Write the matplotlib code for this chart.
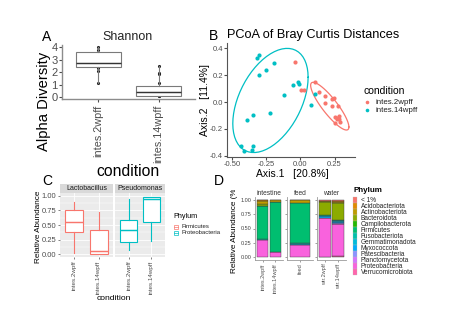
import numpy as np
import matplotlib
matplotlib.use("Agg")
import matplotlib.pyplot as plt
from matplotlib.patches import Rectangle
from matplotlib.transforms import Bbox, TransformedBbox

plt.rcParams['font.family'] = ['Liberation Sans', 'DejaVu Sans']

# ---------------- data ----------------
conditions = ['intes.2wpff', 'intes.14wpff']
cond_colors = ['#F8766D', '#00BFC4']

# A: Shannon alpha diversity (box statistics and sample points)
alpha_box_q1 = [2.37, 0.08]
alpha_box_med = [2.75, 0.37]
alpha_box_q3 = [3.62, 0.91]
alpha_box_lo = [1.15, 0.05]
alpha_box_hi = [4.02, 2.50]
alpha_pts_2wpff = [4.02, 3.75, 3.55, 3.3, 3.0, 2.75, 2.6, 2.45, 2.3, 2.05, 1.15]
alpha_pts_14wpff = [2.5, 1.9, 1.82, 1.1, 0.8, 0.6, 0.37, 0.25, 0.15, 0.08, 0.05]

# B: PCoA coordinates
pcoa_2wpff_x = [-0.037, 0.105, 0.008, 0.025, 0.138, 0.183, 0.228, 0.243, 0.178,
                0.232, 0.278, 0.255, 0.270, 0.285, 0.280, 0.265, 0.250, 0.293]
pcoa_2wpff_y = [0.296, 0.148, 0.086, 0.086, 0.075, 0.048, 0.020, 0.028, -0.008,
                -0.030, -0.030, -0.110, -0.118, -0.108, -0.130, -0.125, -0.155, -0.148]
pcoa_14wpff_x = [-0.305, -0.315, -0.195, -0.250, -0.305, -0.020, -0.010, -0.055, -0.120,
                 0.110, 0.080, -0.220, -0.345, -0.390, -0.435, -0.415, -0.350, -0.352]
pcoa_14wpff_y = [0.350, 0.330, 0.290, 0.235, 0.200, 0.150, 0.135, 0.125, 0.054,
                 0.063, -0.022, -0.085, -0.096, -0.136, -0.330, -0.365, -0.325, -0.355]
ellipse_level = 0.75

# C: relative abundance of two genera (box statistics)
genera = ['Lactobacillus', 'Pseudomonas']
genus_colors = ['#F8766D', '#00BFC4']
genus_phylum = ['Firmicutes', 'Proteobacteria']
genus_q1 = [[0.38, 0.0], [0.21, 0.555]]
genus_med = [[0.543, 0.046], [0.42, 0.942]]
genus_q3 = [[0.757, 0.41], [0.578, 0.988]]
genus_lo = [[0.017, 0.0], [0.075, 0.23]]
genus_hi = [[0.896, 0.73], [0.954, 0.988]]

# D: phylum composition per sample
phyla = ['< 1%', 'Acidobacteriota', 'Actinobacteriota', 'Bacteroidota', 'Campilobacterota',
         'Firmicutes', 'Fusobacteriota', 'Gemmatimonadota', 'Myxococcota', 'Patescibacteria',
         'Planctomycetota', 'Proteobacteria', 'Verrucomicrobiota']
phylum_colors = ['#F8766D', '#E18A00', '#BE9C00', '#8CAB00', '#24B700', '#00BE70', '#00C1AB',
                 '#00BBDA', '#00ACFC', '#8B93FF', '#D575FE', '#F962DD', '#FF65AC']
abund_intes_2wpff = [0.01, 0.01, 0.06, 0.02, 0.01, 0.57, 0.02, 0.0, 0.0, 0.0, 0.0, 0.30, 0.0]
abund_intes_14wpff = [0.01, 0.0, 0.02, 0.01, 0.0, 0.865, 0.005, 0.0, 0.0, 0.0, 0.0, 0.09, 0.0]
abund_feed = [0.0, 0.01, 0.04, 0.0, 0.0, 0.695, 0.025, 0.01, 0.0, 0.0, 0.0, 0.22, 0.0]
abund_wtr_2wpff = [0.015, 0.005, 0.02, 0.23, 0.0, 0.01, 0.0, 0.01, 0.02, 0.0, 0.01, 0.67, 0.01]
abund_wtr_14wpff = [0.025, 0.005, 0.03, 0.29, 0.005, 0.005, 0.01, 0.02, 0.02, 0.01, 0.01, 0.55, 0.02]
facets = ['intestine', 'feed', 'water']
facet_samples = [['intes.2wpff', 'intes.14wpff'], ['feed'], ['wtr.2wpff', 'wtr.14wpff']]
facet_abund = [[abund_intes_2wpff, abund_intes_14wpff], [abund_feed],
               [abund_wtr_2wpff, abund_wtr_14wpff]]

# ---------------- figure helpers ----------------
W, H = 469, 329
fig = plt.figure(figsize=(W / 100, H / 100), dpi=100)


def add_ax(x0, y0, x1, y1):
    return fig.add_axes([x0 / W, 1 - y1 / H, (x1 - x0) / W, (y1 - y0) / H])


def ftext(x, y, s, **kw):
    return fig.text(x / W, 1 - y / H, s, **kw)


GREY = '#4D4D4D'


def box(ax, pos, q1, med, q3, lo, hi, color, width, lw, medcolor=None, z=3):
    ax.bxp([dict(med=med, q1=q1, q3=q3, whislo=lo, whishi=hi, fliers=[])],
           positions=[pos], widths=width, showcaps=False, patch_artist=True,
           boxprops=dict(facecolor='white', edgecolor=color, linewidth=lw),
           medianprops=dict(color=medcolor or color, linewidth=lw * 1.3),
           whiskerprops=dict(color=color, linewidth=lw), zorder=z)


# ---------------- A ----------------
axA = add_ax(62, 45, 195, 99)
axA.set_xlim(0.4, 2.6)
axA.set_ylim(-0.16, 4.16)
for s in ['top', 'right']:
    axA.spines[s].set_visible(False)
for s in ['left', 'bottom']:
    axA.spines[s].set_color('#8C8C8C')
    axA.spines[s].set_linewidth(1.0)
for i, pts in enumerate([alpha_pts_2wpff, alpha_pts_14wpff]):
    axA.scatter([i + 1] * len(pts), pts, s=5, color='#222222', zorder=2, linewidths=0)
    box(axA, i + 1, alpha_box_q1[i], alpha_box_med[i], alpha_box_q3[i],
        alpha_box_lo[i], alpha_box_hi[i], '#7A7A7A', 0.75, 0.8, medcolor='#333333')
axA.set_yticks([0, 1, 2, 3, 4])
axA.set_xticks([1, 2])
axA.set_xticklabels(conditions, rotation=90, fontsize=7.8, color=GREY)
axA.tick_params(axis='y', labelsize=8, colors=GREY, length=2, pad=1)
axA.tick_params(axis='x', colors=GREY, length=2, pad=2)
ftext(128, 37, 'Shannon', fontsize=9, ha='center', va='center', color='#222222')
ftext(43.5, 101, 'Alpha Diversity', fontsize=10.6, rotation=90, ha='center', va='center')
ftext(128, 171, 'condition', fontsize=11.3, ha='center', va='center')
ftext(47, 37, 'A', fontsize=10, ha='center', va='center')

# ---------------- B ----------------
axB = add_ax(227, 43, 355, 157)
axB.set_xlim(-0.537, 0.40)
axB.set_ylim(-0.41, 0.44)
for s in ['top', 'right']:
    axB.spines[s].set_visible(False)
for s in ['left', 'bottom']:
    axB.spines[s].set_color('#555555')
    axB.spines[s].set_linewidth(0.8)
axB.set_xticks([-0.50, -0.25, 0.00, 0.25])
axB.set_xticklabels(['-0.50', '-0.25', '0.00', '0.25'])
axB.set_yticks([-0.4, -0.2, 0.0, 0.2, 0.4])
axB.set_yticklabels(['-0.4', '-0.2', '0.0', '0.2', '0.4'])
axB.tick_params(labelsize=5.5, colors=GREY, length=2, pad=1)


def cov_trob(pts, nu=5, maxit=25, tol=0.01):
    """Multivariate-t robust location and scatter (as in MASS::cov.trob)."""
    x = np.asarray(pts, dtype=float)
    n, p = x.shape
    loc = x.mean(axis=0)
    w = np.ones(n)
    X = x - loc
    for _ in range(maxit):
        w0 = w
        X = x - loc
        _, sv, vt = np.linalg.svd(np.sqrt(w / w.sum())[:, None] * X, full_matrices=False)
        wX = X @ vt.T @ np.diag(1 / sv)
        Q = (wX ** 2).sum(axis=1)
        w = (nu + p) / (nu + Q)
        loc = (w[:, None] * x).sum(axis=0) / w.sum()
        if np.all(np.abs(w - w0) < tol):
            break
    Xw = np.sqrt(w)[:, None] * X
    return loc, Xw.T @ Xw / n


def ellipse_path(xs, ys, level, segments=60):
    pts = np.column_stack([xs, ys])
    center, shape = cov_trob(pts)
    d = len(xs) - 1
    fq = d / 2 * ((1 - level) ** (-2 / d) - 1)   # F(2, d) quantile
    radius = np.sqrt(2 * fq)
    ang = np.linspace(0, 2 * np.pi, segments + 1)
    circ = np.column_stack([np.cos(ang), np.sin(ang)])
    chol = np.linalg.cholesky(shape).T
    e = center + radius * (circ @ chol)
    return e[:, 0], e[:, 1]


groups = [(pcoa_2wpff_x, pcoa_2wpff_y), (pcoa_14wpff_x, pcoa_14wpff_y)]
for (gx, gy), c in zip(groups, cond_colors):
    ex, ey = ellipse_path(gx, gy, ellipse_level)
    axB.plot(ex, ey, color=c, lw=0.9)
    axB.scatter(gx, gy, s=9, color=c, linewidths=0, zorder=3)
ftext(227, 35, 'PCoA of Bray Curtis Distances', fontsize=9.2, ha='left', va='center')
ftext(205, 100, 'Axis.2   [11.4%]', fontsize=7.5, rotation=90, ha='center', va='center')
ftext(292, 174, 'Axis.1   [20.8%]', fontsize=7.5, ha='center', va='center')
ftext(213, 36, 'B', fontsize=10, ha='center', va='center')
ftext(363, 91, 'condition', fontsize=7.5, ha='left', va='center')
for i, (lab, c) in enumerate(zip(conditions, cond_colors)):
    yy = 102 + 8 * i
    fig.add_artist(plt.Line2D([367 / W], [1 - yy / H], marker='o', ms=2.6, color=c,
                              mec='none', transform=fig.transFigure))
    ftext(375, yy, lab, fontsize=5.7, ha='left', va='center', color='#222222')

# ---------------- C ----------------
c_panels = [(60, 113), (115, 165)]
for gi, (x0, x1) in enumerate(c_panels):
    ax = add_ax(x0, 193, x1, 257)
    ax.set_facecolor('#EBEBEB')
    for s in ax.spines.values():
        s.set_visible(False)
    ax.set_xlim(0.4, 2.6)
    ax.set_ylim(-0.05, 1.05)
    for yv in [0.125, 0.375, 0.625, 0.875]:
        ax.axhline(yv, color='white', lw=0.3, zorder=0)
    for yv in [0, 0.25, 0.5, 0.75, 1.0]:
        ax.axhline(yv, color='white', lw=0.6, zorder=0)
    for xv in [1, 2]:
        ax.axvline(xv, color='white', lw=0.6, zorder=0)
    for j in range(2):
        box(ax, j + 1, genus_q1[gi][j], genus_med[gi][j], genus_q3[gi][j],
            genus_lo[gi][j], genus_hi[gi][j], genus_colors[gi], 0.75, 0.8)
    ax.set_xticks([1, 2])
    ax.set_xticklabels(conditions, rotation=90, fontsize=4.5, color=GREY)
    ax.set_yticks([0, 0.25, 0.5, 0.75, 1.0])
    ax.tick_params(colors=GREY, length=1.5, width=0.5, pad=1)
    if gi == 0:
        ax.set_yticklabels(['0.00', '0.25', '0.50', '0.75', '1.00'], fontsize=5.5, color=GREY)
    else:
        ax.set_yticklabels([])
        ax.tick_params(axis='y', length=0)
    sax = add_ax(x0, 184, x1, 193)
    sax.set_facecolor('#D9D9D9')
    sax.set_xticks([])
    sax.set_yticks([])
    for s in sax.spines.values():
        s.set_visible(False)
    sax.text(0.5, 0.5, genera[gi], fontsize=5, color='#1A1A1A', ha='center', va='center',
             transform=sax.transAxes)
ftext(38.5, 227, 'Relative Abundance', fontsize=5.9, rotation=90, ha='center', va='center')
ftext(113.5, 299, 'condition', fontsize=6.1, ha='center', va='center')
ftext(47, 181, 'C', fontsize=10, ha='center', va='center')
ftext(173, 217, 'Phylum', fontsize=5.2, ha='left', va='center')
for i, (lab, c) in enumerate(zip(genus_phylum, genus_colors)):
    yy = 227 + 6 * i
    fig.add_artist(Rectangle((173.5 / W, 1 - (yy + 2.2) / H), 4.5 / W, 4.4 / H,
                             transform=fig.transFigure, facecolor='white',
                             edgecolor=c, lw=0.5))
    fig.add_artist(plt.Line2D([173.5 / W, 178 / W], [1 - yy / H, 1 - yy / H],
                              color=c, lw=0.5, transform=fig.transFigure))
    ftext(181, yy, lab, fontsize=4.3, ha='left', va='center', color='#222222')

# ---------------- D ----------------
d_panels = [(255, 283), (287, 313), (317, 346)]
bar_order = list(range(len(phyla)))[::-1]
for fi, (x0, x1) in enumerate(d_panels):
    ax = add_ax(x0, 197, x1, 260)
    n = len(facet_samples[fi])
    ax.set_xlim(0.4, n + 0.6)
    ax.set_ylim(-0.05, 1.05)
    for s in ['top', 'right']:
        ax.spines[s].set_visible(False)
    for s in ['left', 'bottom']:
        ax.spines[s].set_color('#9A9A9A')
        ax.spines[s].set_linewidth(0.6)
    for si, ab in enumerate(facet_abund[fi]):
        bottom = 0.0
        for k in bar_order:
            if ab[k] <= 0:
                continue
            ax.bar(si + 1, ab[k], bottom=bottom, width=0.9, color=phylum_colors[k],
                   edgecolor='#3A3A3A', linewidth=0.3)
            bottom += ab[k]
    ax.set_xticks(range(1, n + 1))
    ax.set_xticklabels(facet_samples[fi], rotation=90, fontsize=4, color='#555555')
    ax.set_yticks([0, 0.25, 0.5, 0.75, 1.0])
    ax.tick_params(colors='#555555', length=1.5, width=0.4, pad=1)
    if fi == 0:
        ax.set_yticklabels(['0.00', '0.25', '0.50', '0.75', '1.00'], fontsize=4, color='#444444')
    else:
        ax.set_yticklabels([])
    ax.text(0.5, 1.0, facets[fi], transform=ax.transAxes, fontsize=4.8, color='#333333',
            ha='center', va='bottom')
tD = ftext(234, 273, 'Relative Abundance (%)', fontsize=5.9, rotation=90, ha='center',
           va='bottom')
tD.set_clip_box(TransformedBbox(Bbox([[0, 0], [1, 1 - 190 / H]]), fig.transFigure))
tD.set_clip_on(True)
ftext(219, 181, 'D', fontsize=10, ha='center', va='center')
ftext(353, 191, 'Phylum', fontsize=5.8, fontweight='bold', ha='left', va='center')
for i, (lab, c) in enumerate(zip(phyla, phylum_colors)):
    yy = 200 + 6 * i
    fig.add_artist(Rectangle((352.5 / W, 1 - (yy + 2.7) / H), 4.3 / W, 5.4 / H,
                             transform=fig.transFigure, facecolor=c,
                             edgecolor='#BBBBBB', lw=0.2))
    ftext(360.5, yy, lab, fontsize=4.7, ha='left', va='center', color='#222222')

fig.savefig('out.png', dpi=100)
